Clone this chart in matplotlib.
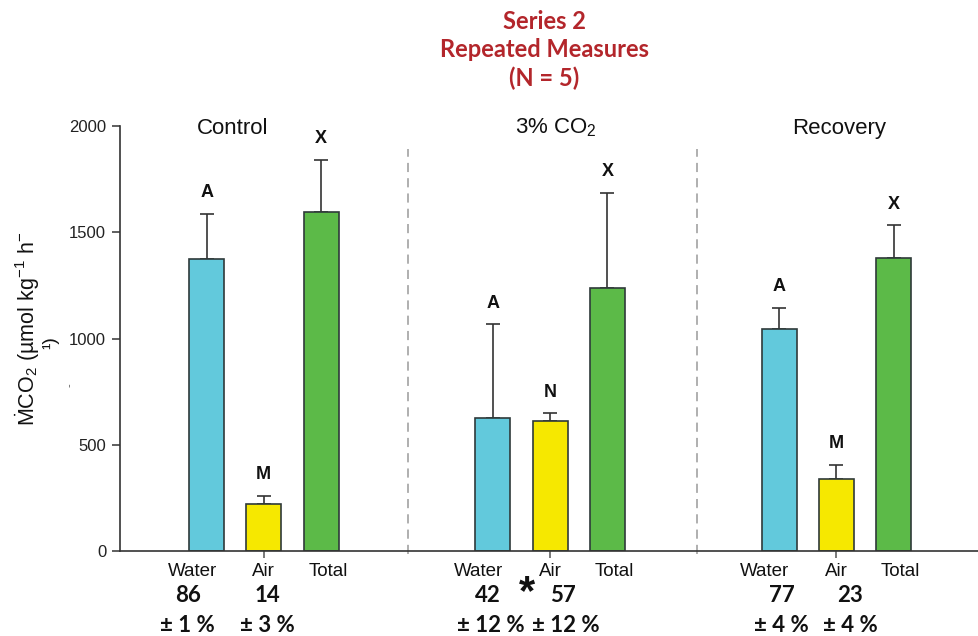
import matplotlib.pyplot as plt

plt.rcParams["font.family"] = ["Liberation Sans", "DejaVu Sans"]
plt.rcParams["mathtext.fontset"] = "custom"
plt.rcParams["mathtext.rm"] = "Liberation Sans"
plt.rcParams["mathtext.it"] = "Liberation Sans:italic"
plt.rcParams["mathtext.bf"] = "Liberation Sans:bold"

conditions = ["Control", "3% CO$_2$", "Recovery"]
bar_names = ["Water", "Air", "Total"]

water_mean = [1375, 626, 1045]
water_err = [211, 442, 99]
air_mean = [221, 612, 339]
air_err = [38, 37, 66]
total_mean = [1595, 1238, 1379]
total_err = [245, 447, 155]

letters_water = ["A", "A", "A"]
letters_air = ["M", "N", "M"]
letters_total = ["X", "X", "X"]

water_pct = [86, 42, 77]
water_pct_sd = [1, 12, 4]
air_pct = [14, 57, 23]
air_pct_sd = [3, 12, 4]

yticks = [0, 500, 1000, 1500, 2000]

color_water = "#62c9dc"
color_air = "#f6e800"
color_total = "#5cba48"
title_red = "#b3262b"
bold_font = ["Lato", "DejaVu Sans"]

fig = plt.figure(figsize=(9.79, 6.36), dpi=100)
ax = fig.add_axes([0.1226, 0.1336, 0.8774, 0.6683])

group_start = [0, 5, 10]
width = 0.61

series = [
    (water_mean, water_err, color_water, letters_water, 0),
    (air_mean, air_err, color_air, letters_air, 1),
    (total_mean, total_err, color_total, letters_total, 2),
]

for mean, err, color, letters, k in series:
    xs = [g + k for g in group_start]
    ax.bar(xs, mean, width=width, color=color, edgecolor="#2f3a3a",
           linewidth=1.2, zorder=2)
    ax.errorbar(xs, mean, yerr=[[0] * 3, err], fmt="none", ecolor="#333333",
                elinewidth=1.2, capsize=5, capthick=1.2, zorder=1)
    for x, m, e, letter in zip(xs, mean, err, letters):
        ax.annotate(letter, (x, m + e), xytext=(0, 9), textcoords="offset points",
                    ha="center", va="bottom", fontsize=13, fontweight="bold",
                    color="#111111")

# dashed separators between conditions
for xsep in [3.52, 8.57]:
    ax.plot([xsep, xsep], [-15, 1890], color="#9a9a9a", linestyle=(0, (6, 4)),
            linewidth=1.1, clip_on=False, zorder=0)

ax.set_xlim(-1.511, 13.49)
ax.set_ylim(0, 2000)
ax.set_yticks(yticks)
ax.tick_params(axis="y", direction="out", length=6, width=1.1, labelsize=12, pad=4,
               colors="#333333", labelcolor="#222222")
ax.set_xticks([g + 1 for g in group_start])
ax.set_xticklabels([])
ax.tick_params(axis="x", direction="out", length=5, width=1.1, colors="#555555")
for side in ["top", "right"]:
    ax.spines[side].set_visible(False)
for side in ["left", "bottom"]:
    ax.spines[side].set_linewidth(1.2)
    ax.spines[side].set_color("#333333")

# condition titles above the bars
title_x = [0.45, 6.1, 11.05]
for x, name in zip(title_x, conditions):
    ax.text(x, 1990, name, ha="center", va="center", fontsize=16, color="#111111")

# bar names under the axis
name_shift = [-0.25, 0.0, 0.12]
for g in group_start:
    for k, name in enumerate(bar_names):
        ax.text(g + k + name_shift[k], -95, name, ha="center", va="center",
                fontsize=13.5, color="#111111")

# percentage of total for water and air
water_x = [-0.32, 4.92, 10.05]
air_x = [1.07, 6.22, 11.24]
for i in range(3):
    ax.text(water_x[i], -210, f"{water_pct[i]}", ha="center", va="center",
            fontsize=16, fontweight="bold", family=bold_font, color="#111111")
    ax.text(air_x[i], -210, f"{air_pct[i]}", ha="center", va="center",
            fontsize=16, fontweight="bold", family=bold_font, color="#111111")
    ax.text(water_x[i] - 0.02 + (0.07 if water_pct_sd[i] > 9 else 0), -350,
            f"± {water_pct_sd[i]} %", ha="center", va="center",
            fontsize=16, fontweight="bold", family=bold_font, color="#111111")
    ax.text(air_x[i] + (0.05 if air_pct_sd[i] > 9 else 0), -350,
            f"± {air_pct_sd[i]} %", ha="center", va="center",
            fontsize=16, fontweight="bold", family=bold_font, color="#111111")

ax.text(5.6, -200, "*", ha="center", va="center", fontsize=30, fontweight="bold",
        color="#111111")

# y axis label, broken across lines
fig.text(0.0286, 0.483, r"$\dot{\mathrm{M}}\mathrm{CO}_2$ (µmol kg$^{-1}$ h$^{-}$",
         rotation=90, ha="center", va="center", fontsize=15.5, color="#111111")
fig.text(0.052, 0.461, "¹)", rotation=90, ha="center", va="center",
         fontsize=14, color="#111111")
fig.text(0.071, 0.395, "-", rotation=90, ha="center", va="center",
         fontsize=8, color="#555555")

fig.text(0.556, 0.921, "Series 2\nRepeated Measures\n(N = 5)", ha="center",
         va="center", fontsize=17, fontweight="bold", color=title_red,
         linespacing=1.26, family=bold_font)

fig.savefig("out.png", dpi=100)
plt.close(fig)
